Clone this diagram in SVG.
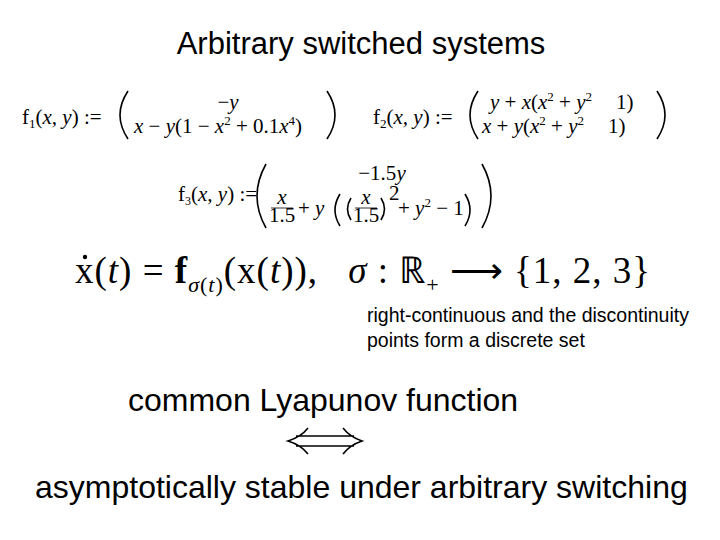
<svg xmlns="http://www.w3.org/2000/svg" width="720" height="540" viewBox="0 0 720 540">
<style>
.s{font-family:"Liberation Sans",Arial,sans-serif;fill:#000}
.m{font-family:"Liberation Serif","Times New Roman",serif;fill:#000;font-size:21px}
.i{font-style:italic}
.p{fill:none;stroke:#000;stroke-width:1.6}
</style>
<rect width="720" height="540" fill="#fff"/>
<text class="s" x="361" y="54" font-size="31" text-anchor="middle">Arbitrary switched systems</text>
<g id="f1">
<text class="m" x="22" y="124">f<tspan font-size="13" dy="4">1</tspan><tspan dy="-4">(</tspan><tspan class="i">x, y</tspan>) :=</text>
<path class="p" d="M128 91 Q112 115 128 139"/><path class="p" d="M327 91 Q343 115 327 139"/>
<text class="m" x="228" y="109" text-anchor="middle">−<tspan class="i">y</tspan></text>
<text class="m" x="134" y="133"><tspan class="i">x</tspan> − <tspan class="i">y</tspan>(1 − <tspan class="i">x</tspan><tspan font-size="13" dy="-8">2</tspan><tspan dy="8"> + 0.1</tspan><tspan class="i">x</tspan><tspan font-size="13" dy="-8">4</tspan><tspan dy="8">)</tspan></text>
</g>
<g id="f2">
<text class="m" x="373" y="124">f<tspan font-size="13" dy="4">2</tspan><tspan dy="-4">(</tspan><tspan class="i">x, y</tspan>) :=</text>
<path class="p" d="M478 91 Q462 115 478 139"/><path class="p" d="M657 91 Q673 115 657 139"/>
<text class="m" x="490" y="109"><tspan class="i">y</tspan> + <tspan class="i">x</tspan>(<tspan class="i">x</tspan><tspan font-size="13" dy="-8">2</tspan><tspan dy="8"> + </tspan><tspan class="i">y</tspan><tspan font-size="13" dy="-8">2</tspan><tspan dy="8" dx="24">1)</tspan></text>
<text class="m" x="482" y="133"><tspan class="i">x</tspan> + <tspan class="i">y</tspan>(<tspan class="i">x</tspan><tspan font-size="13" dy="-8">2</tspan><tspan dy="8"> + </tspan><tspan class="i">y</tspan><tspan font-size="13" dy="-8">2</tspan><tspan dy="8" dx="24">1)</tspan></text>
</g>
<g id="f3">
<text class="m" x="178" y="201" font-size="19">f<tspan font-size="12" dy="4">3</tspan><tspan dy="-4">(</tspan><tspan class="i">x, y</tspan>) :=</text>
<path class="p" d="M266 164 Q248 196 266 228"/><path class="p" d="M482 164 Q500 196 482 228"/>
<text class="m" x="382" y="180" text-anchor="middle">−1.5<tspan class="i">y</tspan></text>
<text class="m i" x="282" y="204" font-size="13" text-anchor="middle">x</text>
<line x1="271" y1="208" x2="293" y2="208" stroke="#000" stroke-width="0.8"/>
<text class="m" x="282" y="222" font-size="13" text-anchor="middle">1.5</text>
<text class="m" x="298" y="215">+ <tspan class="i">y</tspan></text>
<path class="p" d="M340 194 Q330 210 340 226" stroke-width="1.3"/>
<path class="p" d="M351 198 Q344 209 351 220" stroke-width="1"/>
<text class="m i" x="366" y="204" font-size="13" text-anchor="middle">x</text>
<line x1="355" y1="208" x2="377" y2="208" stroke="#000" stroke-width="0.8"/>
<text class="m" x="366" y="222" font-size="13" text-anchor="middle">1.5</text>
<path class="p" d="M381 198 Q388 209 381 220" stroke-width="1"/>
<text class="m" x="389" y="200" font-size="12">2</text>
<text class="m" x="398" y="215">+ <tspan class="i">y</tspan><tspan font-size="13" dy="-8">2</tspan><tspan dy="8"> − 1</tspan></text>
<path class="p" d="M465 194 Q475 210 465 226" stroke-width="1.3"/>
</g>
<g id="eq">
<text x="75" y="283" font-size="37" font-family="Liberation Serif,serif" letter-spacing="1">x(<tspan class="i">t</tspan>) = <tspan font-weight="bold">f</tspan><tspan font-size="22" dy="9"><tspan class="i">σ</tspan>(<tspan class="i">t</tspan>)</tspan><tspan dy="-9">(x(</tspan><tspan class="i">t</tspan>)),<tspan dx="30" class="i">σ</tspan> : ℝ<tspan font-size="22" dy="9">+</tspan><tspan dy="-9"> ⟶ {1, 2, 3}</tspan></text>
<circle cx="85" cy="257" r="2.2" fill="#000"/>
</g>
<g id="note">
<text class="s" x="367" y="322" font-size="19.5">right-continuous and the discontinuity</text>
<text class="s" x="367" y="347" font-size="19.5">points form a discrete set</text>
</g>
<g id="lyap"><text class="s" x="128" y="411" font-size="32">common Lyapunov function</text></g>
<g id="conn">
<path class="p" d="M308 428 Q301 437 288 441 Q301 445 308 454 M343 428 Q350 437 362 441 Q350 445 343 454 M296 436 H354 M296 446 H354" stroke-width="2"/>
</g>
<g id="stab"><text class="s" x="35" y="498" font-size="32">asymptotically stable under arbitrary switching</text></g>
</svg>
